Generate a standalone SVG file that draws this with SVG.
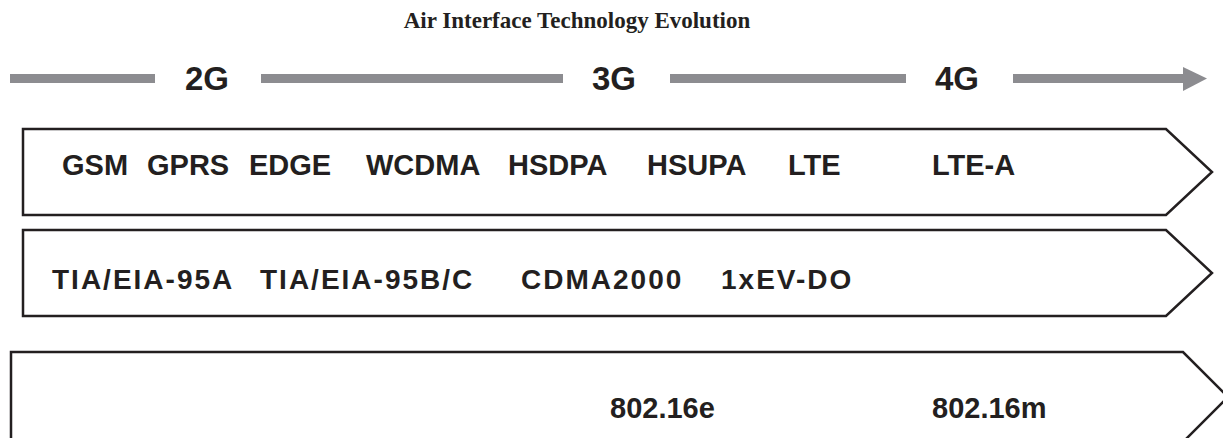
<svg xmlns="http://www.w3.org/2000/svg" width="1223" height="438" viewBox="0 0 1223 438">
<style>
.title{font-family:"Liberation Serif","Times New Roman",serif;font-weight:bold;font-size:23px;fill:#231f20}
.gen{font-family:"Liberation Sans",Arial,sans-serif;font-weight:bold;font-size:33px;fill:#231f20}
.t{font-family:"Liberation Sans",Arial,sans-serif;font-weight:bold;font-size:29px;fill:#231f20}
.t2{font-family:"Liberation Sans",Arial,sans-serif;font-weight:bold;font-size:28px;fill:#231f20;letter-spacing:2px}
.box{fill:#ffffff;stroke:#231f20;stroke-width:2.5}
.bar{stroke:#8c8c90;stroke-width:9;fill:none}
</style>
<rect width="1223" height="438" fill="#ffffff"/>
<text class="title" x="577" y="28" text-anchor="middle">Air Interface Technology Evolution</text>
<g id="timeline">
<line class="bar" x1="10" y1="78.5" x2="155" y2="78.5"/>
<line class="bar" x1="261" y1="78.5" x2="563" y2="78.5"/>
<line class="bar" x1="670" y1="78.5" x2="906" y2="78.5"/>
<line class="bar" x1="1013" y1="78.5" x2="1184" y2="78.5"/>
<polygon points="1183,67 1207,78.5 1183,91" fill="#8c8c90"/>
<text class="gen" x="185" y="90">2G</text>
<text class="gen" x="592" y="90">3G</text>
<text class="gen" x="935" y="90">4G</text>
</g>
<g id="row-3gpp">
<polygon class="box" points="23,129 1166,129 1212,172 1166,215 23,215"/>
<text class="t" x="62" y="175">GSM</text>
<text class="t" x="147" y="175">GPRS</text>
<text class="t" x="249" y="175">EDGE</text>
<text class="t" x="366" y="175">WCDMA</text>
<text class="t" x="508" y="175">HSDPA</text>
<text class="t" x="647" y="175">HSUPA</text>
<text class="t" x="788" y="175">LTE</text>
<text class="t" x="932" y="175">LTE-A</text>
</g>
<g id="row-3gpp2">
<polygon class="box" points="23,230 1166,230 1212,273 1166,316 23,316"/>
<text class="t2" x="52" y="289">TIA/EIA-95A</text>
<text class="t2" x="260" y="289">TIA/EIA-95B/C</text>
<text class="t2" x="521" y="289">CDMA2000</text>
<text class="t2" x="721" y="289">1xEV-DO</text>
</g>
<g id="row-ieee">
<polygon class="box" points="11,352 1183,352 1228,397 1183,442 11,442"/>
<text class="t" x="610" y="418">802.16e</text>
<text class="t" x="932" y="418">802.16m</text>
</g>
</svg>
